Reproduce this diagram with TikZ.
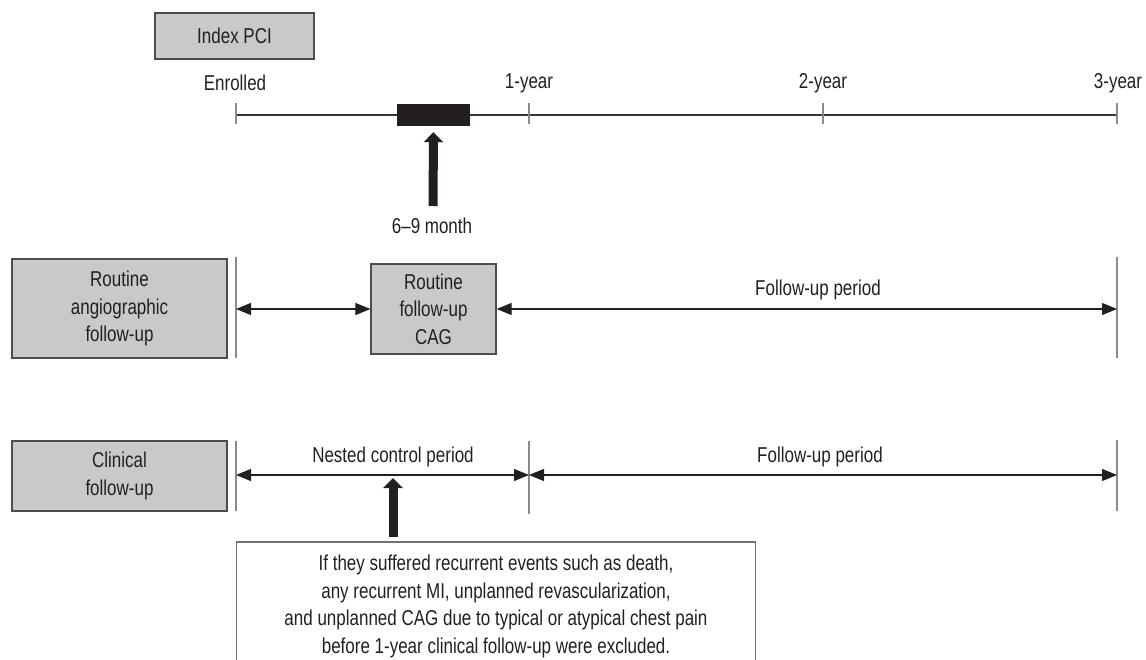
\documentclass[tikz,border=0pt]{standalone}
\usepackage{fontspec}
\setmainfont{Liberation Sans}[FakeStretch=0.79]
\usetikzlibrary{arrows.meta,calc}
\definecolor{boxfill}{HTML}{C8C9CB}
\definecolor{boxline}{HTML}{4D4D4F}
\definecolor{ink}{HTML}{231F20}
\definecolor{guide}{HTML}{8C8C8C}
\begin{document}
\begin{tikzpicture}[x=1pt,y=-1pt,
  every node/.style={font=\fontsize{21.5}{27.5}\selectfont, text=ink},
  graybox/.style={draw=boxline, line width=1.2pt, fill=boxfill, align=center, inner sep=0pt},
  lbl/.style={inner sep=0pt},
  guideline/.style={draw=guide, line width=2pt},
  span/.style={draw=ink, line width=1.1pt, {Triangle[length=15pt,width=12pt]}-{Triangle[length=15pt,width=12pt]}},
  bigarrow/.style={draw=ink, line width=9pt, -{Triangle[length=10pt,width=19pt]}},
]
\useasboundingbox (0,0) rectangle (1146,660);

% top timeline
\node[graybox, minimum width=159pt, minimum height=46pt] (pci) at (234.5,36) {Index PCI};
\node[lbl] (enr) at (235,83) {Enrolled};
\node[lbl] (y1) at (529,83) {1-year};
\node[lbl] (y2) at (823,83) {2-year};
\node[lbl] (y3) at (1118,83) {3-year};
\coordinate (t0) at (236,115);
\coordinate (t1) at (529,115);
\coordinate (t2) at (823,115);
\coordinate (t3) at (1117,115);
\draw[line width=2.5pt, draw=ink!90] (t0) -- (t3);
\foreach \t in {t0,t1,t2,t3} \draw[guideline] ([yshift=12pt]\t) -- ([yshift=-9pt]\t);
\node[fill=ink, minimum width=73pt, minimum height=22pt, inner sep=0pt] (bar) at (433.5,115) {};
\node[lbl] (mon) at (432,226) {6–9 month};
\coordinate (a69) at (433,206);
\draw[bigarrow] (a69) -- ([yshift=-6pt]bar.south);

% routine angiographic follow-up row
\node[graybox, minimum width=215pt, minimum height=99pt] (rag) at (119.5,308.5) {Routine\\angiographic\\follow-up};
\node[graybox, minimum width=125pt, minimum height=90pt] (cag) at (433.5,309) {Routine\\follow-up\\CAG};
\coordinate (r2lt) at (236,257);
\coordinate (r2lb) at (236,358);
\coordinate (r2rt) at (1117,257);
\coordinate (r2rb) at (1117,358);
\draw[guideline] (r2lt) -- (r2lb);
\draw[guideline] (r2rt) -- (r2rb);
\draw[span] (cag.west -| r2lt) -- (cag.west);
\draw[span] (cag.east) -- (cag.east -| r2rt);
\node[lbl] (fu1) at (818,290) {Follow-up period};

% clinical follow-up row
\node[graybox, minimum width=215pt, minimum height=70pt] (cfu) at (119.5,476) {Clinical\\follow-up};
\coordinate (r3at) at (236,441);
\coordinate (r3ab) at (236,511);
\coordinate (r3bt) at (529,441);
\coordinate (r3bb) at (529,514);
\coordinate (r3ct) at (1117,440);
\coordinate (r3cb) at (1117,511);
\draw[guideline] (r3at) -- (r3ab);
\draw[guideline] (r3bt) -- (r3bb);
\draw[guideline] (r3ct) -- (r3cb);
\coordinate (r3l) at (236,475);
\coordinate (r3m) at (529,475);
\coordinate (r3r) at (1117,475);
\draw[span] (r3l) -- (r3m);
\draw[span] (r3m) -- (r3r);
\node[lbl] (ncp) at (393,457) {Nested control period};
\node[lbl] (fu2) at (820,457) {Follow-up period};

% exclusion note
\node[align=center, inner xsep=0pt, inner ysep=13pt, minimum width=518pt, anchor=north] (note) at (496,542)
  {If they suffered recurrent events such as death,\\
   any recurrent MI, unplanned revascularization,\\
   and unplanned CAG due to typical or atypical chest pain\\
   before 1-year clinical follow-up were excluded.};
\draw[draw=boxline!80, line width=1.2pt] (note.south west) -- (note.north west) -- (note.north east) -- (note.south east);
\coordinate (evt) at (393,478);
\coordinate (evtb) at ($(note.north -| evt)+(0,-5)$);
\draw[bigarrow] (evtb) -- (evt);
\end{tikzpicture}
\end{document}
